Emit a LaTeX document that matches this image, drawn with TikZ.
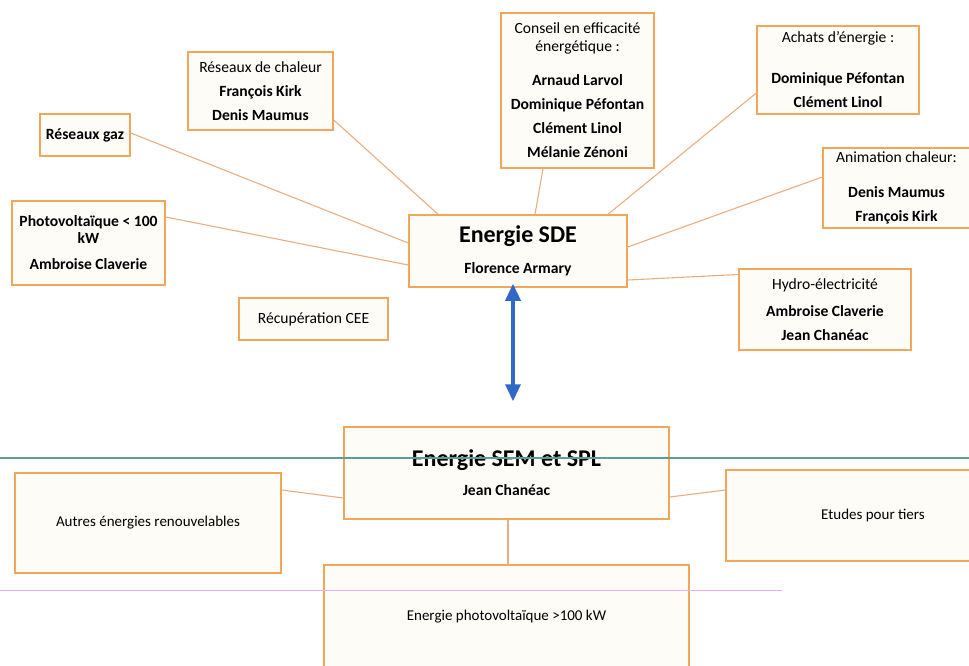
\documentclass[tikz,border=0pt]{standalone}
\usepackage{fontspec}
\setmainfont{Carlito}
\usetikzlibrary{arrows.meta}
\definecolor{boxline}{HTML}{F2A65A}
\definecolor{boxfill}{HTML}{FEFCF7}
\definecolor{linktan}{HTML}{E9AE80}
\definecolor{arrowblue}{HTML}{3068C8}
\definecolor{scanteal}{HTML}{5F9C98}
\definecolor{scanpink}{HTML}{E6AEEA}
\begin{document}
\begin{tikzpicture}[x=1pt,y=-1pt,
  every node/.style={font=\fontsize{15.6}{18}\selectfont},
  orgbox/.style={draw=boxline,line width=1.5pt,fill=boxfill,align=center,inner sep=0pt},
  lowtext/.style={font=\fontsize{15}{18}\selectfont},
  link/.style={draw=linktan,line width=1.1pt},
  biarrow/.style={draw=arrowblue,line width=3.5pt,{Triangle[width=15pt,length=17pt]}-{Triangle[width=15pt,length=17pt]}}]
\useasboundingbox (0,0) rectangle (969,665);
\clip (0,0) rectangle (969,665);
% boxes around Energie SDE
\node[orgbox,minimum width=90pt,minimum height=42pt] (gaz) at (85,135) {\textbf{Réseaux gaz}};
\node[orgbox,minimum width=145pt,minimum height=78pt] (chaleur) at (260.5,91) {Réseaux de chaleur\\[6pt]\textbf{François Kirk}\\[6pt]\textbf{Denis Maumus}};
\node[orgbox,minimum width=153pt,minimum height=84pt] (pv) at (88.5,243) {\textbf{Photovoltaïque < 100}\\[-1pt]\textbf{kW}\\[8pt]\textbf{Ambroise Claverie}};
\node[orgbox,minimum width=149pt,minimum height=42pt] (cee) at (313.5,319) {Récupération CEE};
\node[orgbox,minimum width=218pt,minimum height=72pt] (sde) at (518,251) {{\fontsize{24}{26}\selectfont\textbf{Energie SDE}}\\[13pt]\textbf{Florence Armary}};
\node[orgbox,minimum width=153pt,minimum height=155pt] (conseil) at (577.5,90.5) {Conseil en efficacité\\énergétique :\\[16pt]\textbf{Arnaud Larvol}\\[6pt]\textbf{Dominique Péfontan}\\[6pt]\textbf{Clément Linol}\\[6pt]\textbf{Mélanie Zénoni}};
\node[orgbox,minimum width=162pt,minimum height=88pt] (achats) at (838,70) {Achats d’énergie :\\[23pt]\textbf{Dominique Péfontan}\\[6pt]\textbf{Clément Linol}};
\node[orgbox,minimum width=147pt,minimum height=80pt] (anim) at (896.5,188) {Animation chaleur:\\[17pt]\textbf{Denis Maumus}\\[6pt]\textbf{François Kirk}};
\node[orgbox,minimum width=172pt,minimum height=81pt] (hydro) at (825,309.5) {Hydro-électricité\\[9pt]\textbf{Ambroise Claverie}\\[6pt]\textbf{Jean Chanéac}};
% boxes around Energie SEM et SPL
\node[orgbox,minimum width=325pt,minimum height=92pt] (sem) at (506.5,473) {{\fontsize{24}{26}\selectfont\textbf{Energie SEM et SPL}}\\[11pt]\textbf{Jean Chanéac}};
\node[orgbox,lowtext,minimum width=266pt,minimum height=100pt] (autres) at (148,523) {Autres énergies renouvelables};
\node[orgbox,lowtext,minimum width=294pt,minimum height=91pt] (etudes) at (873,515.5) {Etudes pour tiers};
\node[orgbox,lowtext,minimum width=365pt,minimum height=104pt] (pvbig) at (506.5,617) {Energie photovoltaïque >100 kW};
% links
\draw[link] ([yshift=2pt]gaz.east) -- ([yshift=8pt]sde.west);
\draw[link] ([yshift=-29pt]chaleur.east) -- ([xshift=-80pt]sde.north);
\draw[link] ([yshift=26pt]pv.east) -- ([yshift=-14pt]sde.west);
\draw[link] ([xshift=-34.5pt]conseil.south) -- ([xshift=17pt]sde.north);
\draw[link] ([yshift=-23pt]achats.west) -- ([xshift=90pt]sde.north);
\draw[link] ([yshift=11pt]anim.west) -- ([yshift=4pt]sde.east);
\draw[link] ([yshift=35pt]hydro.west) -- ([yshift=-29pt]sde.east);
\draw[link] ([yshift=33pt]autres.east) -- ([yshift=-25pt]sem.west);
\draw[link] ([yshift=-24pt]sem.east) -- ([yshift=25.5pt]etudes.west);
\draw[link] ([xshift=1.5pt]sem.south) -- ([xshift=1.5pt]pvbig.north);
\draw[biarrow] ([xshift=-5pt,yshift=4pt]sde.south) -- ([xshift=6.5pt,yshift=25pt]sem.north);
% scan lines
\draw[scanteal,line width=1.2pt] (0,458) -- (969,458);
\draw[scanpink,line width=1pt] (0,590) -- (782,590);
\end{tikzpicture}
\end{document}
